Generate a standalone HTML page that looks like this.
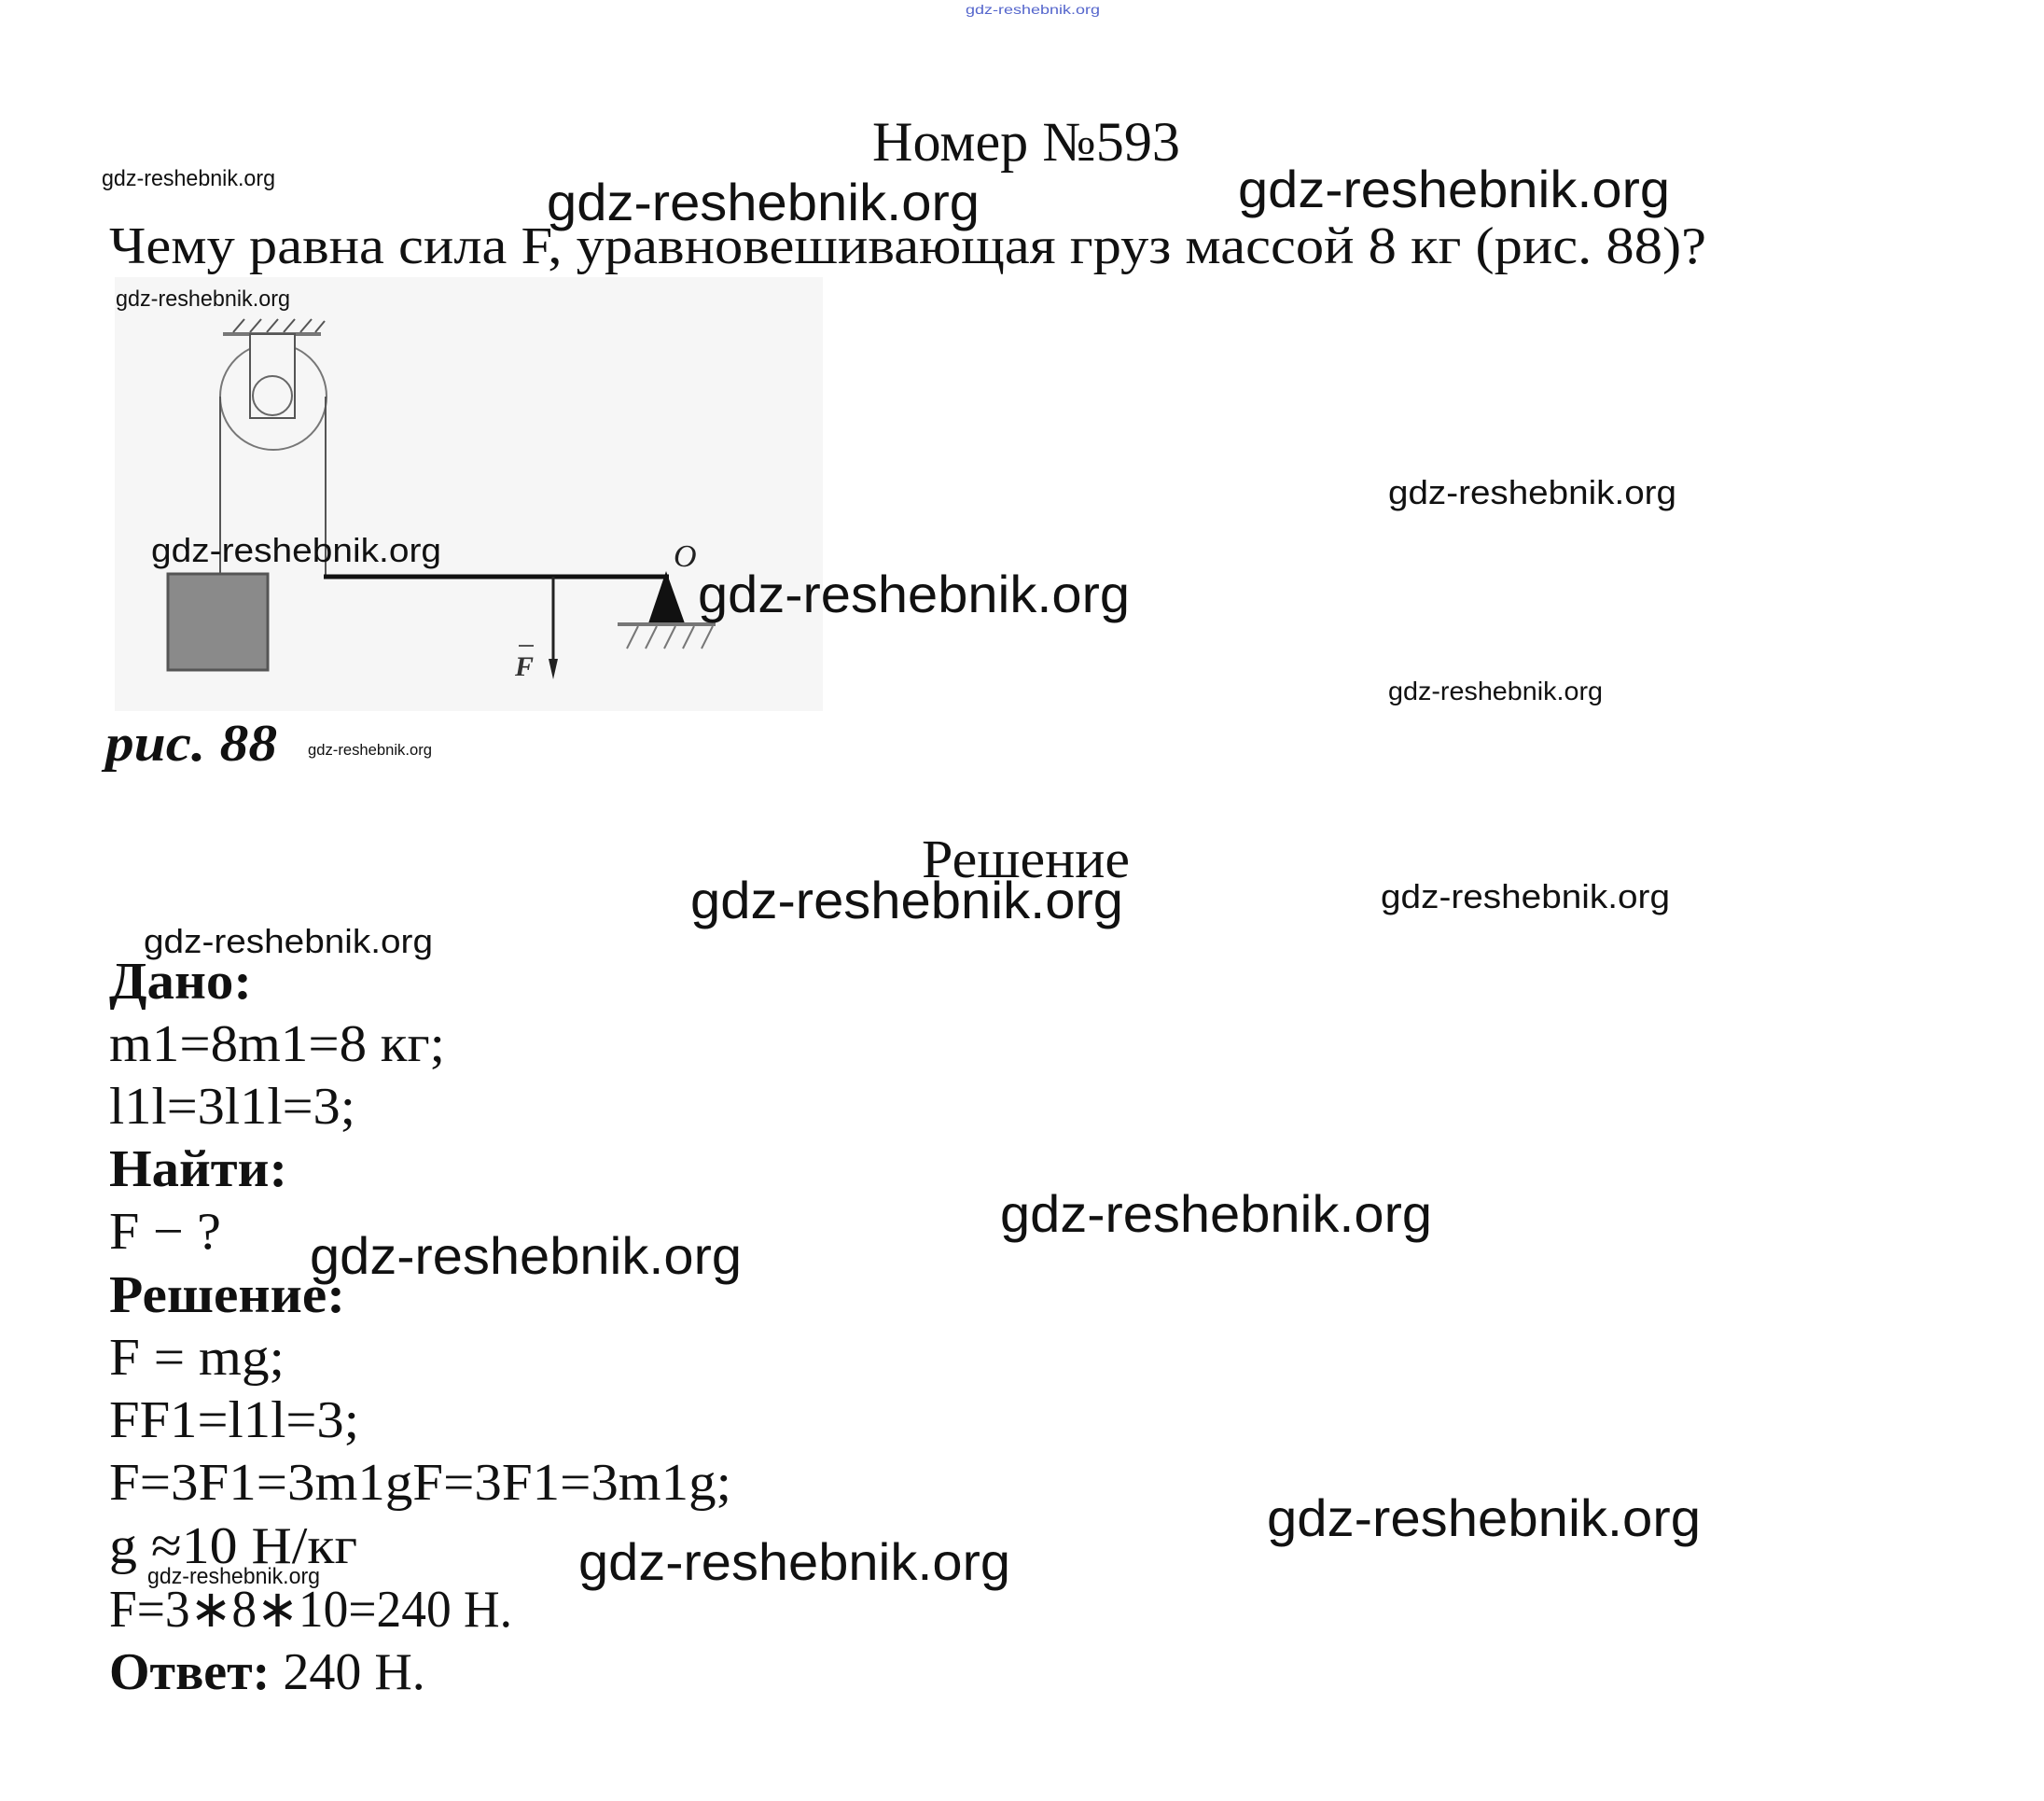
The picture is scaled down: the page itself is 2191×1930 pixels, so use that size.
<!DOCTYPE html>
<html><head><meta charset="utf-8"><style>
html,body{margin:0;padding:0;background:#fff;width:2191px;height:1930px;overflow:hidden}
svg{display:block}
.t{font-family:"Liberation Serif","Noto Serif CJK SC",serif;fill:#111}
.w{font-family:"Liberation Sans","DejaVu Sans",sans-serif;fill:#111}
</style></head><body>
<svg width="2191" height="1930" viewBox="0 0 2191 1930" xmlns="http://www.w3.org/2000/svg">
<text class="w" x="1035" y="15" font-size="14" fill="#5566cc" style="fill:#5566cc" textLength="144" lengthAdjust="spacingAndGlyphs">gdz-reshebnik.org</text>

<text class="t" x="935" y="172" font-size="60" textLength="330" lengthAdjust="spacingAndGlyphs">Номер №593</text>
<text class="w" x="109" y="199" font-size="24" textLength="186" lengthAdjust="spacingAndGlyphs">gdz-reshebnik.org</text>
<text class="w" x="586" y="236" font-size="56" textLength="464" lengthAdjust="spacingAndGlyphs">gdz-reshebnik.org</text>
<text class="w" x="1327" y="222" font-size="56" textLength="463" lengthAdjust="spacingAndGlyphs">gdz-reshebnik.org</text>
<text class="t" x="117" y="282" font-size="56" textLength="1712" lengthAdjust="spacingAndGlyphs">Чему равна сила F, уравновешивающая груз массой 8 кг (рис. 88)?</text>

<!-- figure -->
<rect x="123" y="297" width="759" height="465" fill="#f6f6f6"/>
<g stroke="#555" stroke-width="2" fill="none">
<line x1="239" y1="358" x2="344" y2="358" stroke-width="4" stroke="#777"/>
<path d="M250 356 l12 -14 M268 356 l12 -14 M286 356 l12 -14 M304 356 l12 -14 M322 356 l12 -14 M338 356 l10 -12"/>
<circle cx="293" cy="425" r="57" stroke="#777"/>
<rect x="268" y="358" width="48" height="90" fill="#f6f6f6"/>
<circle cx="292" cy="424" r="21" stroke="#666"/>
<line x1="236" y1="425" x2="236" y2="615"/>
<line x1="349" y1="425" x2="349" y2="618"/>
</g>
<rect x="180" y="615" width="107" height="103" fill="#8a8a8a" stroke="#555" stroke-width="3"/>
<line x1="347" y1="618" x2="717" y2="618" stroke="#111" stroke-width="5"/>
<line x1="593" y1="618" x2="593" y2="712" stroke="#222" stroke-width="3"/>
<polygon points="588,706 598,706 593,728" fill="#222"/>
<text x="552" y="724" font-family="Liberation Serif,serif" font-size="30" font-style="italic" font-weight="bold" fill="#333">F</text>
<line x1="556" y1="692" x2="572" y2="692" stroke="#555" stroke-width="2"/>
<text x="722" y="607" font-family="Liberation Serif,serif" font-size="34" font-style="italic" fill="#222">O</text>
<polygon points="714,612 695,668 734,668" fill="#111"/>
<line x1="662" y1="669" x2="767" y2="669" stroke="#777" stroke-width="4"/>
<path d="M672 695 l12 -24 M692 695 l12 -24 M712 695 l12 -24 M732 695 l12 -24 M752 695 l12 -24" stroke="#777" stroke-width="2"/>

<text class="w" x="124" y="328" font-size="24" textLength="187" lengthAdjust="spacingAndGlyphs">gdz-reshebnik.org</text>
<text class="w" x="1488" y="540" font-size="36" textLength="309" lengthAdjust="spacingAndGlyphs">gdz-reshebnik.org</text>
<text class="w" x="162" y="602" font-size="36" textLength="311" lengthAdjust="spacingAndGlyphs">gdz-reshebnik.org</text>
<text class="w" x="748" y="656" font-size="56" textLength="463" lengthAdjust="spacingAndGlyphs">gdz-reshebnik.org</text>
<text class="w" x="1488" y="750" font-size="28" textLength="230" lengthAdjust="spacingAndGlyphs">gdz-reshebnik.org</text>
<text class="t" x="113" y="815" font-size="56" font-style="italic" font-weight="bold" textLength="184" lengthAdjust="spacingAndGlyphs">рис. 88</text>
<text class="w" x="330" y="809" font-size="17" textLength="133" lengthAdjust="spacingAndGlyphs">gdz-reshebnik.org</text>

<text class="t" x="988" y="940" font-size="58" textLength="223" lengthAdjust="spacingAndGlyphs">Решение</text>
<text class="w" x="740" y="984" font-size="56" textLength="464" lengthAdjust="spacingAndGlyphs">gdz-reshebnik.org</text>
<text class="w" x="1480" y="973" font-size="36" textLength="310" lengthAdjust="spacingAndGlyphs">gdz-reshebnik.org</text>
<text class="w" x="154" y="1021" font-size="36" textLength="310" lengthAdjust="spacingAndGlyphs">gdz-reshebnik.org</text>

<text class="t" x="117" y="1070" font-size="56" font-weight="bold" textLength="153" lengthAdjust="spacingAndGlyphs">Дано:</text>
<text class="t" x="117" y="1137" font-size="56" textLength="360" lengthAdjust="spacingAndGlyphs">m1=8m1=8 кг;</text>
<text class="t" x="117" y="1204" font-size="56" textLength="264" lengthAdjust="spacingAndGlyphs">l1l=3l1l=3;</text>
<text class="t" x="117" y="1271" font-size="56" font-weight="bold" textLength="191" lengthAdjust="spacingAndGlyphs">Найти:</text>
<text class="t" x="117" y="1338" font-size="56" textLength="120" lengthAdjust="spacingAndGlyphs">F − ?</text>
<text class="w" x="1072" y="1320" font-size="56" textLength="463" lengthAdjust="spacingAndGlyphs">gdz-reshebnik.org</text>
<text class="w" x="332" y="1365" font-size="56" textLength="463" lengthAdjust="spacingAndGlyphs">gdz-reshebnik.org</text>
<text class="t" x="117" y="1406" font-size="56" font-weight="bold" textLength="253" lengthAdjust="spacingAndGlyphs">Решение:</text>
<text class="t" x="117" y="1473" font-size="56" textLength="188" lengthAdjust="spacingAndGlyphs">F = mg;</text>
<text class="t" x="117" y="1540" font-size="56" textLength="268" lengthAdjust="spacingAndGlyphs">FF1=l1l=3;</text>
<text class="t" x="117" y="1607" font-size="56" textLength="667" lengthAdjust="spacingAndGlyphs">F=3F1=3m1gF=3F1=3m1g;</text>
<text class="t" x="117" y="1675" font-size="56" textLength="266" lengthAdjust="spacingAndGlyphs">g ≈10 Н/кг</text>
<text class="w" x="1358" y="1646" font-size="56" textLength="465" lengthAdjust="spacingAndGlyphs">gdz-reshebnik.org</text>
<text class="w" x="158" y="1697" font-size="24" textLength="185" lengthAdjust="spacingAndGlyphs">gdz-reshebnik.org</text>
<text class="w" x="620" y="1693" font-size="56" textLength="463" lengthAdjust="spacingAndGlyphs">gdz-reshebnik.org</text>
<text class="t" x="117" y="1743" font-size="56" textLength="432" lengthAdjust="spacingAndGlyphs">F=3∗8∗10=240 Н.</text>
<text class="t" x="117" y="1810" font-size="56"><tspan font-weight="bold">Ответ:</tspan> 240 Н.</text>
</svg>
</body></html>
